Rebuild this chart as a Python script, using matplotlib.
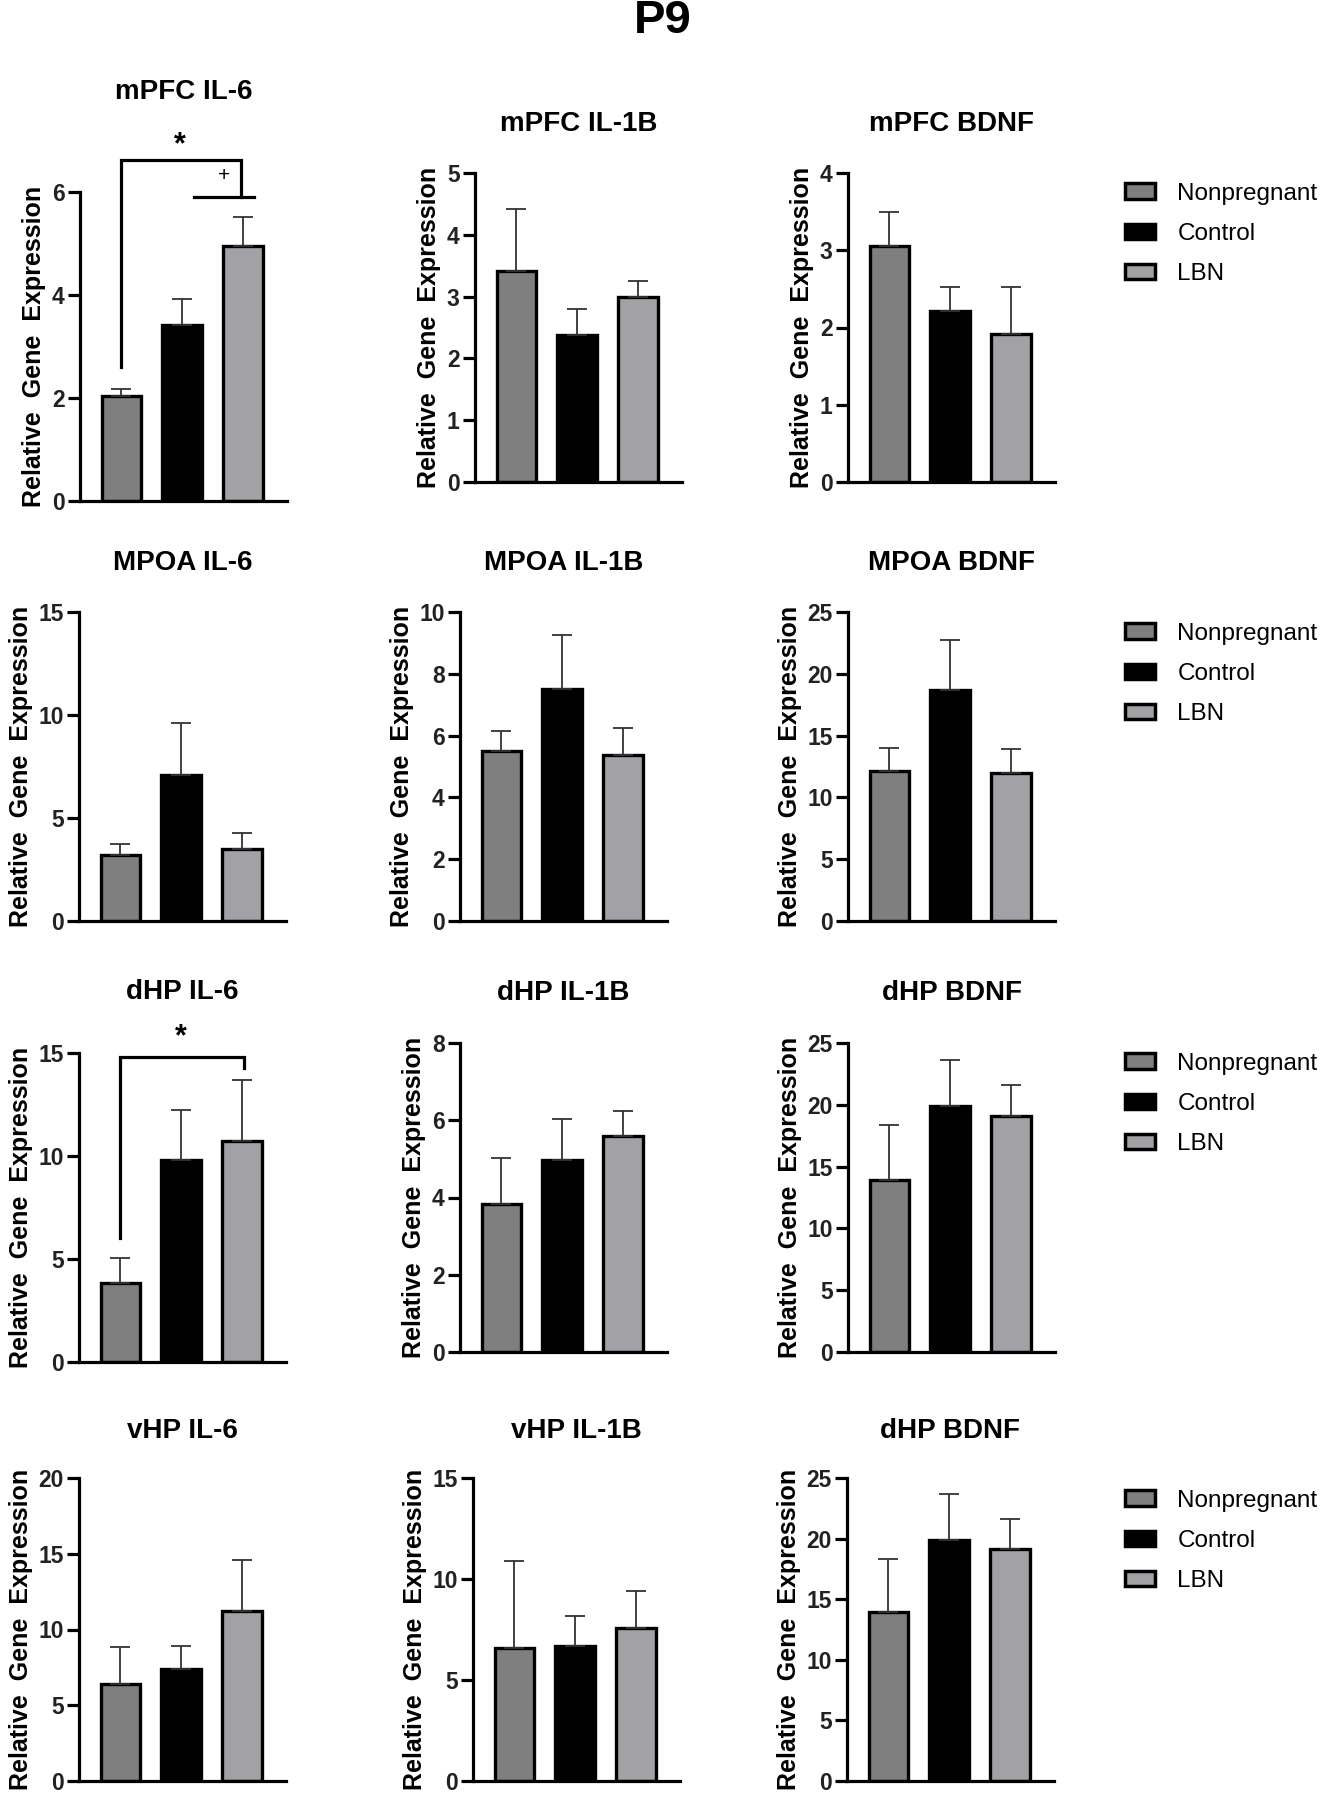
import matplotlib
matplotlib.use("Agg")
import matplotlib.pyplot as plt
from matplotlib.patches import Patch

plt.rcParams['font.family'] = ['Liberation Sans', 'DejaVu Sans']

groups = ['Nonpregnant', 'Control', 'LBN']

titles = ['mPFC IL-6', 'mPFC IL-1B', 'mPFC BDNF',
          'MPOA IL-6', 'MPOA IL-1B', 'MPOA BDNF',
          'dHP IL-6', 'dHP IL-1B', 'dHP BDNF',
          'vHP IL-6', 'vHP IL-1B', 'dHP BDNF']

mpfc_il6_mean = [2.03, 3.42, 4.96]
mpfc_il6_err = [0.15, 0.50, 0.56]
mpfc_il1b_mean = [3.41, 2.38, 3.00]
mpfc_il1b_err = [1.01, 0.42, 0.25]
mpfc_bdnf_mean = [3.05, 2.21, 1.92]
mpfc_bdnf_err = [0.45, 0.32, 0.61]
mpoa_il6_mean = [3.19, 7.10, 3.51]
mpoa_il6_err = [0.53, 2.50, 0.76]
mpoa_il1b_mean = [5.50, 7.51, 5.38]
mpoa_il1b_err = [0.64, 1.73, 0.88]
mpoa_bdnf_mean = [12.14, 18.66, 11.98]
mpoa_bdnf_err = [1.86, 4.04, 1.92]
dhp_il6_mean = [3.83, 9.79, 10.73]
dhp_il6_err = [1.23, 2.46, 2.94]
dhp_il1b_mean = [3.82, 4.98, 5.59]
dhp_il1b_err = [1.19, 1.04, 0.64]
dhp_bdnf_mean = [13.95, 19.88, 19.13]
dhp_bdnf_err = [4.40, 3.77, 2.47]
vhp_il6_mean = [6.42, 7.39, 11.25]
vhp_il6_err = [2.42, 1.49, 3.36]
vhp_il1b_mean = [6.58, 6.67, 7.55]
vhp_il1b_err = [4.29, 1.51, 1.86]

means = [mpfc_il6_mean, mpfc_il1b_mean, mpfc_bdnf_mean,
         mpoa_il6_mean, mpoa_il1b_mean, mpoa_bdnf_mean,
         dhp_il6_mean, dhp_il1b_mean, dhp_bdnf_mean,
         vhp_il6_mean, vhp_il1b_mean, dhp_bdnf_mean]
errs = [mpfc_il6_err, mpfc_il1b_err, mpfc_bdnf_err,
        mpoa_il6_err, mpoa_il1b_err, mpoa_bdnf_err,
        dhp_il6_err, dhp_il1b_err, dhp_bdnf_err,
        vhp_il6_err, vhp_il1b_err, dhp_bdnf_err]
y_max = [6, 5, 4, 15, 10, 25, 15, 8, 25, 20, 15, 25]
y_step = [2, 1, 1, 5, 2, 5, 5, 2, 5, 5, 5, 5]

colors = ['#7f7f7f', '#000000', '#a2a2a6']

# layout in pixels (figure 1321 x 1800)
W, H = 1321, 1800
lefts = [80, 475, 848, 79, 460, 848, 79, 460, 848, 79, 473, 847]
tops = [192, 173, 173, 612, 612, 612, 1053, 1043, 1043, 1478, 1478, 1478]
heights = [309] * 9 + [303] * 3
ax_w = 207
title_gap = [100, 49, 49, 49, 49, 49, 61, 50, 50, 47, 47, 47]
legend_mid = [234, 674, 1104, 1541]

fig = plt.figure(figsize=(W / 100, H / 100), dpi=100)
fig.text(663 / W, 1 - 21 / H, 'P9', ha='center', va='center',
         fontsize=34, fontweight='bold')

axes = []
for i in range(12):
    ax_h = heights[i]
    ax = fig.add_axes([lefts[i] / W, 1 - (tops[i] + ax_h) / H, ax_w / W, ax_h / H])
    x = range(3)
    ax.bar(x, means[i], width=0.65, color=colors, edgecolor='black', linewidth=2.4,
           yerr=[[0, 0, 0], errs[i]],
           error_kw=dict(ecolor='#333333', elinewidth=1.3, capsize=7, capthick=1.3))
    ax.set_xlim(-0.68, 2.72)
    ax.set_ylim(0, y_max[i])
    ax.set_yticks(range(0, y_max[i] + 1, y_step[i]))
    ax.set_xticks([])
    for s in ['top', 'right']:
        ax.spines[s].set_visible(False)
    for s in ['left', 'bottom']:
        ax.spines[s].set_linewidth(2.3)
    ax.tick_params(axis='y', length=9, width=2.3, pad=2, labelsize=16.5,
                   labelcolor='#222222')
    for lab in ax.get_yticklabels():
        lab.set_fontweight('bold')
    ax.set_ylabel('Relative  Gene  Expression', fontsize=18, fontweight='bold',
                  labelpad=4)
    ax.text(0.5, 1 + title_gap[i] / ax_h, titles[i], transform=ax.transAxes,
            ha='center', va='center', fontsize=20, fontweight='bold')
    axes.append(ax)

# significance brackets
ax = axes[0]
ax.plot([0, 0, 1.97, 1.97], [2.6, 6.63, 6.63, 5.9], color='black', lw=2.3,
        clip_on=False, solid_joinstyle='miter')
ax.plot([1.2, 2.18], [5.9, 5.9], color='black', lw=2.3, clip_on=False)
ax.text(1.68, 6.32, '+', ha='center', va='center', fontsize=15)
ax.text(0.96, 6.9, '*', ha='center', va='center', fontsize=22, fontweight='bold')

ax = axes[6]
ax.plot([0, 0, 2.03, 2.03], [6.0, 14.8, 14.8, 14.25], color='black', lw=2.3,
        clip_on=False, solid_joinstyle='miter')
ax.text(1.0, 15.75, '*', ha='center', va='center', fontsize=22, fontweight='bold')

handles = [Patch(facecolor=c, edgecolor='black', linewidth=2.5, label=g)
           for c, g in zip(colors, groups)]
for ym in legend_mid:
    fig.legend(handles=handles, loc='center left',
               bbox_to_anchor=(1125 / W, 1 - ym / H), frameon=False,
               fontsize=17.5, handlelength=1.25, handleheight=0.58,
               handletextpad=0.9, labelspacing=0.76, borderpad=0,
               borderaxespad=0)

fig.savefig('out.png', dpi=100)
